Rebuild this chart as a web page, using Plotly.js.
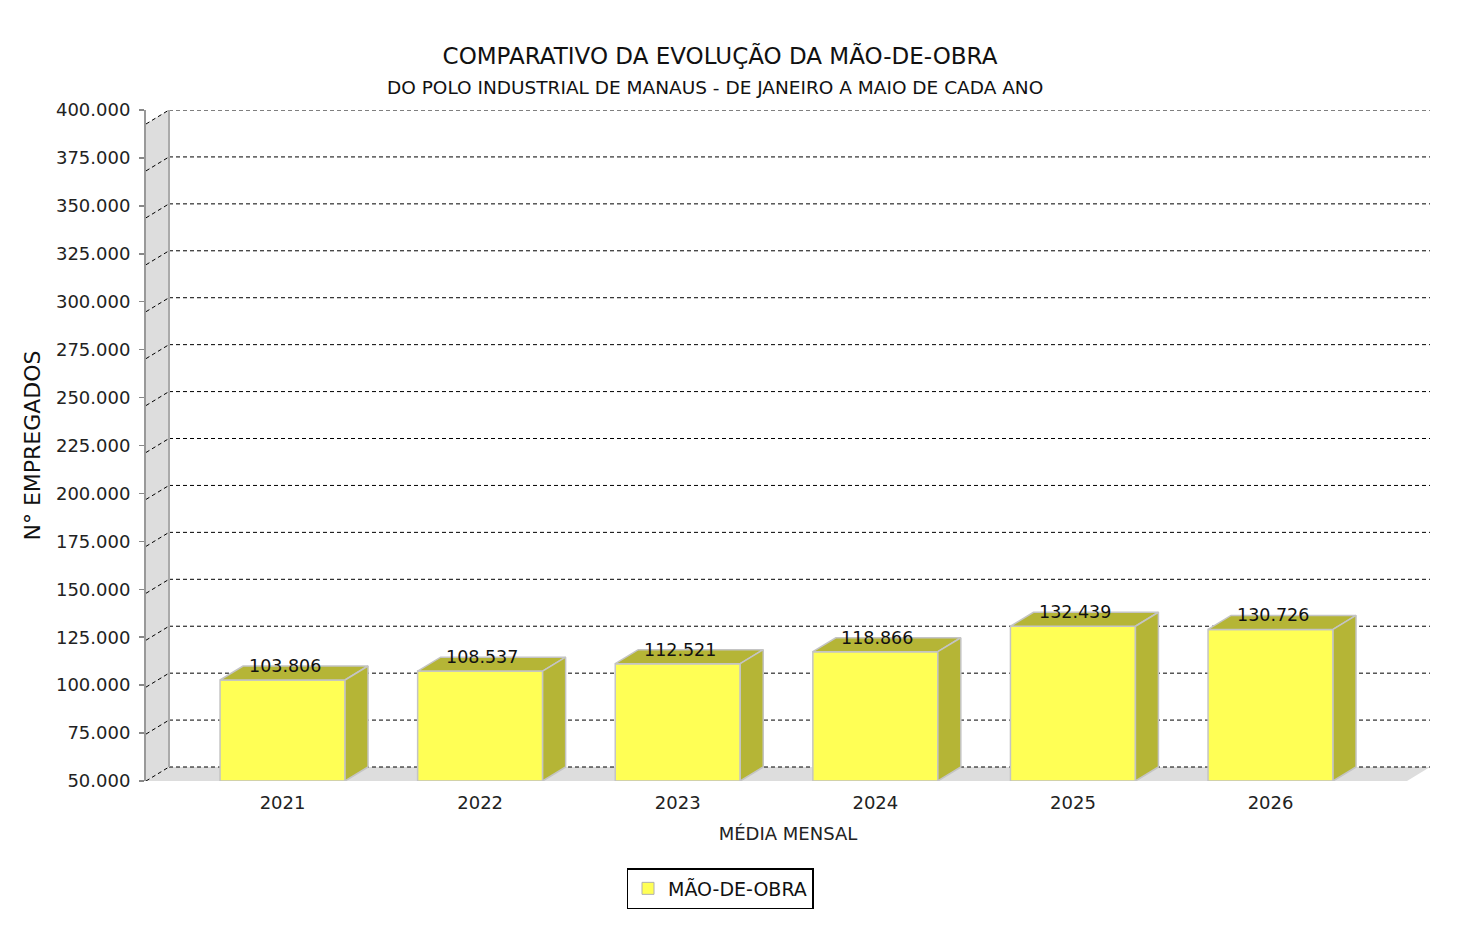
<!DOCTYPE html>
<html><head><meta charset="utf-8">
<script src="https://cdn.plot.ly/plotly-3.0.1.min.js"></script>
<style>body{margin:0;background:#fff}#chart{width:1464px;height:946px}</style>
</head><body><div id="chart"></div>
<script>
// ---- data ----
const years = [2021, 2022, 2023, 2024, 2025, 2026];
const values = [103806, 108537, 112521, 118866, 132439, 130726];
const seriesName = 'MÃO-DE-OBRA';
const yMin = 50000, yMax = 400000, yStep = 25000;
const titleText = 'COMPARATIVO DA EVOLUÇÃO DA MÃO-DE-OBRA';
const subtitleText = 'DO POLO INDUSTRIAL DE MANAUS - DE JANEIRO A MAIO DE CADA ANO';
const xTitle = 'MÉDIA MENSAL';
const yTitle = 'N° EMPREGADOS';

// ---- 3D geometry (in axis units) ----
const D = 7450;          // vertical depth offset
const dx = 0.1164;       // horizontal depth offset
const barW = 0.6326;
const x0 = 2020.309, x1 = 2026.807;
const xFR = x1 - dx;

const FONT = 'DejaVu Sans, Verdana, sans-serif';
const YEL = '#FFFF55', OLIVE = '#B5B536', EDGE = '#C4C4C4', WALL = '#DDDDDD';

function fmt(v){ return String(v).replace(/\B(?=(\d{3})+(?!\d))/g, '.'); }

const traces = [];
const base = {type:'scatter', mode:'lines', hoverinfo:'skip', showlegend:false, xaxis:'x', yaxis:'y'};
// wall
traces.push(Object.assign({}, base, {x:[x0,x0,x0+dx,x0+dx,x0], y:[yMin,yMax,yMax+D,yMin+D,yMin], fill:'toself', fillcolor:WALL, line:{width:0}}));
// floor
traces.push(Object.assign({}, base, {x:[x0,xFR,x1,x0+dx,x0], y:[yMin,yMin,yMin+D,yMin+D,yMin], fill:'toself', fillcolor:WALL, line:{width:0}}));
// gridlines + diagonals
const gx = [], gy = [];
for (let v = yMin; v <= yMax; v += yStep){
  gx.push(x0+dx, x1, null, x0, x0+dx, null);
  gy.push(v+D, v+D, null, v, v+D, null);
}
traces.push(Object.assign({}, base, {x:gx, y:gy, line:{color:'#000', width:1, dash:'4px,3px'}}));
// wall back edge
traces.push(Object.assign({}, base, {x:[x0+dx,x0+dx], y:[yMin+D,yMax+D], line:{color:'#AAAAAA', width:2}}));
// bars
years.forEach((yr,i)=>{
  const v = values[i], l = yr - barW/2, r = yr + barW/2;
  traces.push(Object.assign({}, base, {x:[l,l,r,r,l], y:[yMin,v,v,yMin,yMin], fill:'toself', fillcolor:YEL, line:{color:EDGE,width:1.5}}));
  traces.push(Object.assign({}, base, {x:[l,l+dx,r+dx,r,l], y:[v,v+D,v+D,v,v], fill:'toself', fillcolor:OLIVE, line:{color:EDGE,width:1.5}}));
  traces.push(Object.assign({}, base, {x:[r,r+dx,r+dx,r,r], y:[v,v+D,yMin+D,yMin,v], fill:'toself', fillcolor:OLIVE, line:{color:EDGE,width:1.5}}));
});
// legend entry
traces.push({type:'bar', x:[1990], y:[1], name:seriesName, marker:{color:YEL, line:{color:'#B0B0B0', width:1}}, hoverinfo:'skip', showlegend:true});
// tick-label axis anchor
traces.push({type:'scatter', x:[null], y:[null], xaxis:'x', yaxis:'y2', showlegend:false, hoverinfo:'skip'});

const annotations = years.map((yr,i)=>({x:yr+0.01, y:values[i], xref:'x', yref:'y', text:fmt(values[i]), showarrow:false, yshift:14, yanchor:'middle', font:{family:FONT, size:17.5, color:'#111'}}));
annotations.push({xref:'paper', yref:'paper', x:(715-146)/1284, y:(781-87)/671, text:subtitleText, showarrow:false, xanchor:'center', yanchor:'middle', font:{family:FONT, size:18.5, color:'#111'}});

const layout = {
  width:1464, height:946,
  margin:{l:146, r:34, t:110, b:165},
  paper_bgcolor:'#fff', plot_bgcolor:'#fff',
  separators:',.',
  hovermode:false,
  title:{text:titleText, xref:'container', yref:'container', x:720/1464, y:1-56/946, xanchor:'center', yanchor:'middle', font:{family:FONT, size:23, color:'#111'}},
  xaxis:{range:[x0,x1], tickmode:'array', tickvals:years, ticktext:years.map(String), showgrid:false, zeroline:false, showline:false, ticks:'', ticklabelstandoff:9, tickfont:{family:FONT, size:18, color:'#222'},
         title:{text:xTitle, font:{family:FONT, size:18, color:'#222'}, standoff:15}},
  yaxis:{range:[yMin, yMax+D], visible:false, showgrid:false, zeroline:false, fixedrange:true},
  yaxis2:{range:[yMin,yMax], overlaying:'y', side:'left', anchor:'x', showgrid:false, zeroline:false, showline:true, linecolor:'#999', linewidth:2,
          ticks:'outside', ticklen:5, tickcolor:'#888', tickwidth:1.5, dtick:yStep, tick0:yMin, tickformat:',.0f', ticklabelstandoff:5,
          tickfont:{family:FONT, size:18, color:'#222'}, title:{text:yTitle, font:{family:FONT, size:22, color:'#111'}, standoff:9}},
  legend:{orientation:'h', x:(720-146)/1284, y:(781-868)/671, xanchor:'center', yanchor:'top', bordercolor:'#000', borderwidth:1.5, font:{family:FONT, size:19, color:'#111'}, bgcolor:'#fff'},
  annotations:annotations,
  showlegend:true
};
Plotly.newPlot('chart', traces, layout, {displayModeBar:false, staticPlot:true});
</script></body></html>
